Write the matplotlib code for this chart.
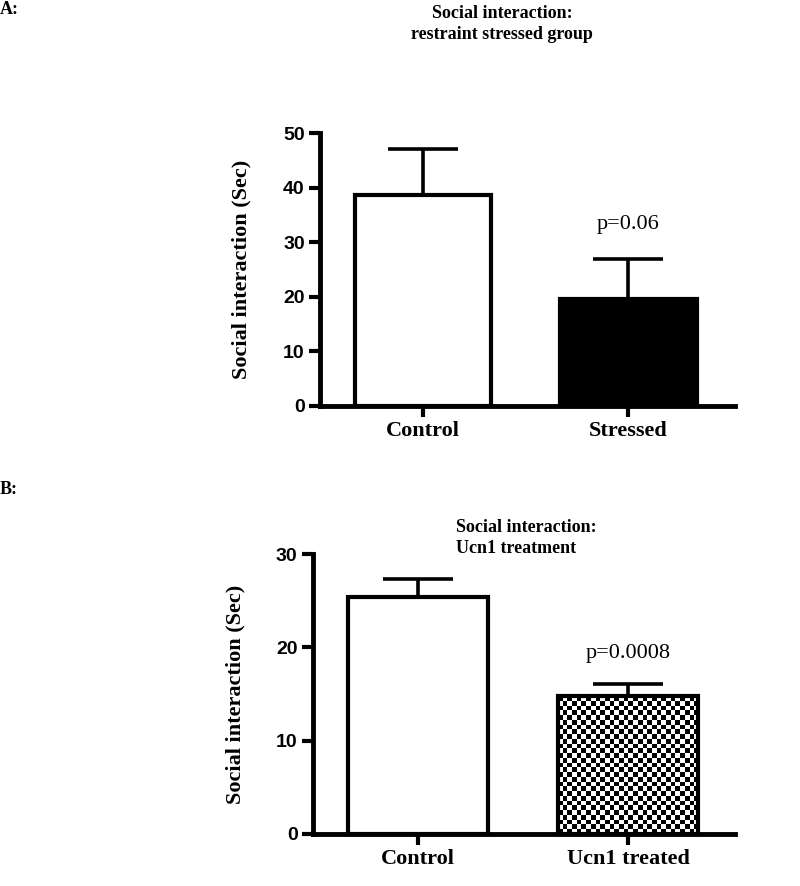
import numpy as np
import matplotlib.pyplot as plt

# panel A: restraint stress
groups_a = ['Control', 'Stressed']
means_a = [38.7, 19.6]
sem_a = [8.4, 7.3]

# panel B: Ucn1 treatment
groups_b = ['Control', 'Ucn1 treated']
means_b = [25.35, 14.75]
sem_b = [1.95, 1.35]

serif = 'Liberation Serif'
sans = 'Liberation Sans'

fig = plt.figure(figsize=(8, 8.86), dpi=100)


def draw_panel(ax, groups, means, sem, ymax, fills, pval, py, lab_x):
    x = np.arange(len(groups))
    bars = ax.bar(x, means, width=0.667, color=fills, edgecolor='black',
                  linewidth=3, zorder=3)
    ax.errorbar(x, means, yerr=[np.zeros(len(means)), sem], fmt='none',
                ecolor='black', elinewidth=2.6, capsize=25, capthick=2.6, zorder=2)
    ax.set_ylim(0, ymax)
    ax.set_yticks(np.arange(0, ymax + 1, 10))
    ax.set_xticks(x)
    ax.set_xticklabels(groups, fontfamily=serif, fontweight='bold', fontsize=16)
    for lab in ax.get_yticklabels():
        lab.set_fontfamily(sans)
        lab.set_fontweight('bold')
        lab.set_fontsize(14)
    ax.tick_params(direction='out', length=8, width=3, pad=3)
    for s in ['top', 'right']:
        ax.spines[s].set_visible(False)
    for s in ['left', 'bottom']:
        ax.spines[s].set_linewidth(3.5)
    ax.set_ylabel('Social interaction (Sec)', fontfamily=serif,
                  fontweight='bold', fontsize=16)
    ax.yaxis.set_label_coords(lab_x, 0.5)
    ax.text(1, py, pval, ha='center', va='center', fontfamily=serif, fontsize=16)
    return bars


axA = fig.add_axes([0.40, 0.5418, 0.519, 0.308])
draw_panel(axA, groups_a, means_a, sem_a, 50, ['white', 'black'],
           'p=0.06', 33.2, -0.165)
axA.set_xlim(-0.502, 1.522)

axB = fig.add_axes([0.391, 0.0587, 0.528, 0.316])
barsB = draw_panel(axB, groups_b, means_b, sem_b, 30, ['white', 'none'],
                   'p=0.0008', 19.3, -0.16)

# checkerboard fill for the treated bar
p = barsB[1]
x0, y0 = p.get_x(), p.get_y()
w, h = p.get_width(), p.get_height()
checker = np.indices((29, 30)).sum(axis=0) % 2
im = axB.imshow(checker, cmap='gray', extent=(x0, x0 + w, y0, y0 + h),
                aspect='auto', zorder=2.5, interpolation='nearest', origin='lower')
im.set_clip_path(p)
axB.set_xlim(-0.5, 1.51)
axB.set_ylim(0, 30)

# panel letters and titles
fig.text(0.0, 1 - 10 / 886, 'A:', fontfamily=serif, fontweight='bold',
         fontsize=13, va='center', ha='left')
fig.text(502 / 800, 1 - 24 / 886, 'Social interaction:\nrestraint stressed group',
         fontfamily=serif, fontweight='bold', fontsize=13, ha='center',
         va='center', linespacing=1.35)
fig.text(0.0, 1 - 490 / 886, 'B:', fontfamily=serif, fontweight='bold',
         fontsize=13, va='center', ha='left')
fig.text(456 / 800, 1 - 538 / 886, 'Social interaction:\nUcn1 treatment',
         fontfamily=serif, fontweight='bold', fontsize=13, ha='left',
         va='center', linespacing=1.35)

fig.savefig('out.png', dpi=100)
